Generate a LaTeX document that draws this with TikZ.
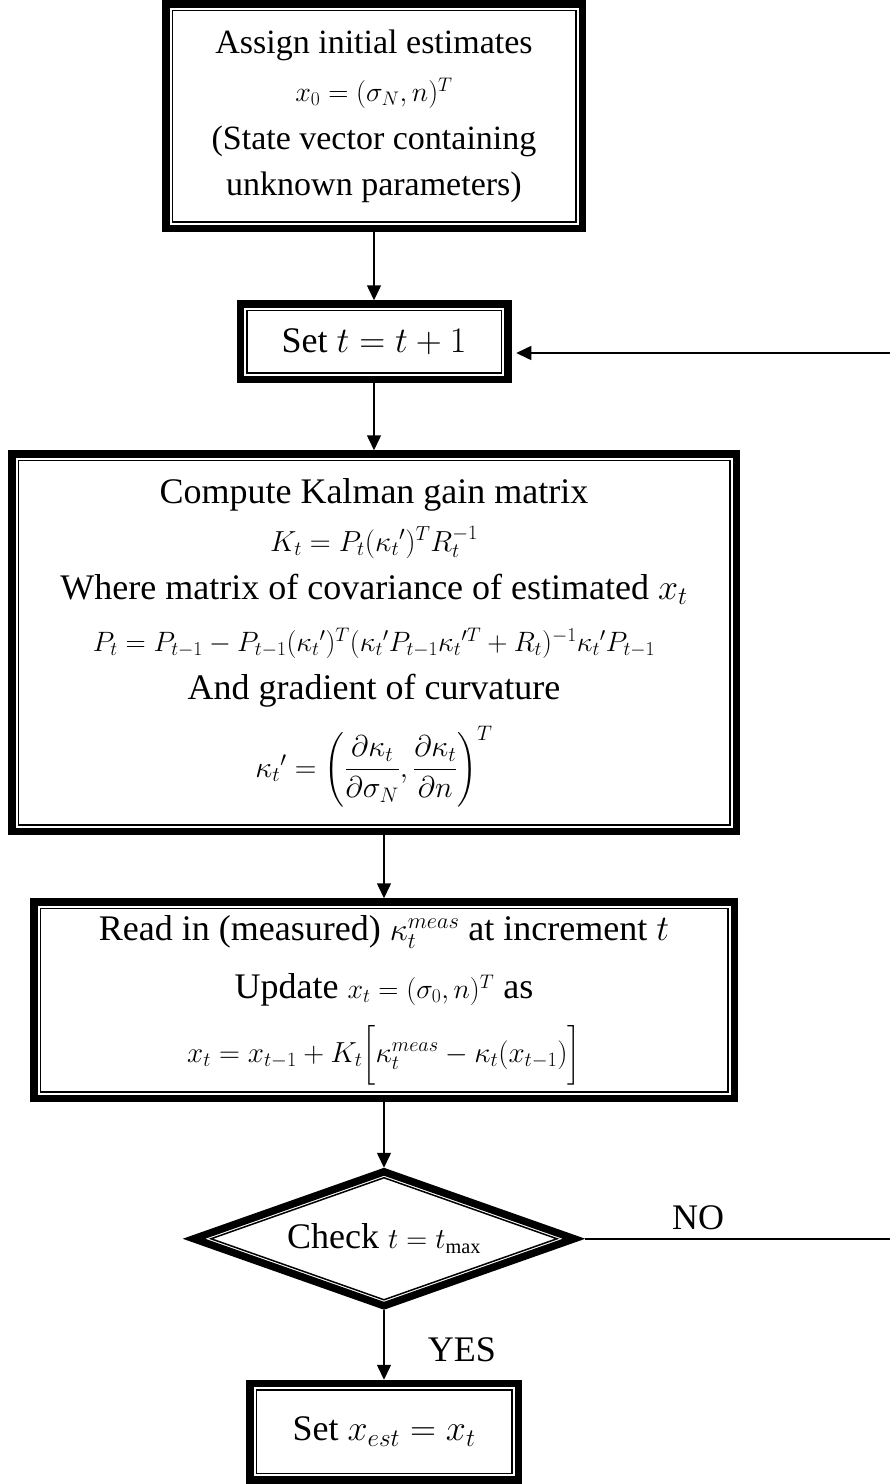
\RequirePackage{fix-cm}
\documentclass[tikz,border=0pt]{standalone}
\usepackage{amsmath}
\usepackage{fontspec}
\setmainfont{Liberation Serif}
\usetikzlibrary{positioning,shapes.geometric,arrows.meta}
% formula set smaller than the running text
\newcommand{\fm}[2][30]{{\fontsize{#1}{#1}\selectfont$#2$}}

\begin{document}
\begin{tikzpicture}[
  x=1pt, y=-1pt,
  font=\fontsize{36}{48}\selectfont,
  box/.style={draw, line width=1.5pt, align=center, inner sep=0pt, outer sep=0pt},
  check/.style={draw, shape=diamond, line width=1.5pt, aspect=2.84, inner sep=2pt, outer sep=0pt,
                minimum width=346pt, minimum height=122pt},
  rim/.style={line width=7.5pt, line join=miter},
  arr/.style={-{Triangle[length=15pt,width=14pt]}, line width=1.5pt, shorten <=10pt, shorten >=10pt},
]
\useasboundingbox (0,0) rectangle (890,1484);
% process boxes
\node[box, minimum width=403.5pt, minimum height=211.5pt, font=\fontsize{34}{46}\selectfont] (init) at (374,116)
  {Assign initial estimates\\[2pt] \fm[28]{x_0 = (\sigma_N, n)^T}\\[2pt] (State vector containing\\ unknown parameters)};
\node[box, minimum width=254.5pt, minimum height=62.5pt, below=88.5pt of init] (inc) {Set $t = t + 1$};
\node[box, minimum width=711.5pt, minimum height=364.5pt, below=87.5pt of inc] (gain)
  {Compute Kalman gain matrix\\
   \fm[29]{K_t = P_t(\kappa_t{}')^T R_t^{-1}}\\
   Where matrix of covariance of estimated $x_t$\\[4pt]
   \fm[28]{P_t = P_{t-1} - P_{t-1}(\kappa_t{}')^T(\kappa_t{}' P_{t-1}\kappa_t{}'^T + R_t)^{-1}\kappa_t{}' P_{t-1}}\\
   And gradient of curvature\\[18pt]
   \fm[30]{\kappa_t{}' = \left(\dfrac{\partial\kappa_t}{\partial\sigma_N}, \dfrac{\partial\kappa_t}{\partial n}\right)^{T}}};
\node[box, minimum width=687.5pt, minimum height=183.5pt, below=83.5pt of gain, xshift=10pt] (upd)
  {Read in (measured) \fm[32]{\kappa_t^{meas}} at increment $t$\\[10pt]
   Update \fm[28]{x_t = (\sigma_0, n)^T} as\\[16pt]
   \fm[29]{x_t = x_{t-1} + K_t\Big[\kappa_t^{meas} - \kappa_t(x_{t-1})\Big]}};
% decision
\node[check, below=86pt of upd] (chk) {Check \fm[29]{t = t_{\max}}};
\node[box, minimum width=255.5pt, minimum height=83.5pt, below=90pt of chk] (fin) {Set $x_{est} = x_t$};
% heavy outer frames
\foreach \n in {init,inc,gain,upd,fin}
  \draw[rim] ([shift={(-6.5,-6.5)}]\n.north west) rectangle ([shift={(6.5,6.5)}]\n.south east);
\draw[rim] ([shift={(0,-67)}]chk.center) -- ([shift={(190,0)}]chk.center)
  -- ([shift={(0,67)}]chk.center) -- ([shift={(-190,0)}]chk.center) -- cycle;
% arrows
\draw[arr] (init) -- (inc);
\draw[arr] (inc) -- (gain);
\draw[arr] (gain.south -| upd.north) -- (upd.north);
\draw[arr] (upd) -- (chk);
\draw[arr] (chk) -- (fin);
% loop back on NO
\coordinate (back) at (896,353);
\draw[arr, shorten <=28pt, shorten >=15pt] (chk.east) -| (back) -- (back -| inc.east);
\node (no) at (698,1218) {NO};
\node (yes) at (462,1350) {YES};
\end{tikzpicture}
\end{document}
